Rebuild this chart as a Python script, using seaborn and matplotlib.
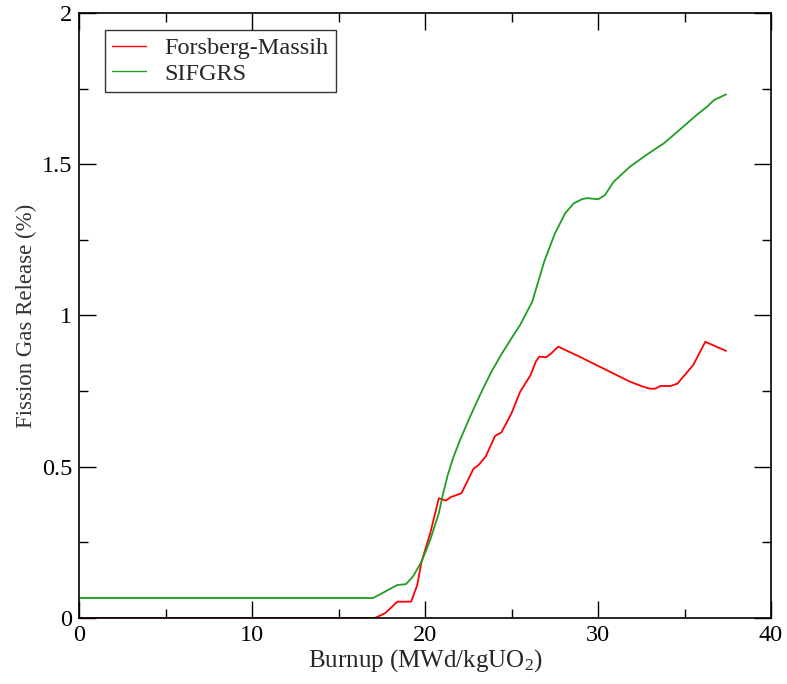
import matplotlib
matplotlib.use("Agg")
import matplotlib.pyplot as plt
from matplotlib.ticker import MultipleLocator
import numpy as np
import pandas as pd
import seaborn as sns

# Forsberg-Massih model: burnup (MWd/kgUO2) vs fission gas release (%)
fm_burnup = [0.0, 17.1, 17.7, 18.4, 19.2, 19.55, 19.8, 20.3, 20.8, 21.2, 21.5, 22.1,
             22.8, 23.1, 23.5, 24.05, 24.4, 24.7, 25.0, 25.5, 26.1, 26.4, 26.6, 27.0,
             27.3, 27.7, 29.0, 30.3, 31.85, 32.6, 33.0, 33.3, 33.6, 34.2, 34.6, 34.8,
             35.5, 36.2, 37.4]
fm_release = [0.0, 0.0, 0.016, 0.054, 0.054, 0.109, 0.186, 0.28, 0.396, 0.388, 0.40, 0.412,
              0.493, 0.506, 0.533, 0.602, 0.613, 0.644, 0.677, 0.748, 0.803, 0.847, 0.864, 0.862,
              0.875, 0.897, 0.862, 0.825, 0.781, 0.765, 0.758, 0.758, 0.767, 0.767, 0.775, 0.789,
              0.836, 0.913, 0.883]

# SIFGRS model
sif_burnup = [0.0, 17.0, 18.4, 18.9, 19.3, 19.8, 20.3, 20.8, 21.0, 21.3, 21.6, 22.0, 22.6,
              23.2, 23.8, 24.4, 25.0, 25.5, 26.2, 26.9, 27.5, 28.1, 28.6, 29.1, 29.4,
              30.0, 30.4, 30.9, 31.85, 32.8, 33.8, 34.7, 35.7, 36.3, 36.7, 37.4]
sif_release = [0.066, 0.066, 0.109, 0.112, 0.137, 0.186, 0.258, 0.347, 0.40, 0.47, 0.525, 0.585, 0.665,
               0.74, 0.81, 0.87, 0.925, 0.969, 1.046, 1.18, 1.27, 1.338, 1.371, 1.385, 1.388,
               1.384, 1.398, 1.442, 1.492, 1.531, 1.569, 1.613, 1.663, 1.69, 1.712, 1.731]

series_names = ["Forsberg-Massih", "SIFGRS"]
series_colors = ["#ff0000", "#1f9e1f"]

df = pd.concat([
    pd.DataFrame({"burnup": fm_burnup, "release": fm_release, "model": series_names[0]}),
    pd.DataFrame({"burnup": sif_burnup, "release": sif_release, "model": series_names[1]}),
], ignore_index=True)

sns.set_theme(style="ticks")
plt.rcParams["font.family"] = ["Liberation Serif", "DejaVu Serif"]
plt.rcParams["mathtext.fontset"] = "custom"
plt.rcParams["mathtext.rm"] = "Liberation Serif"
plt.rcParams["mathtext.it"] = "Liberation Serif:italic"

fig = plt.figure(figsize=(7.87, 6.84), dpi=100)
ax = fig.add_axes([0.1004, 0.0965, 0.8793, 0.8845])

sns.lineplot(data=df, x="burnup", y="release", hue="model", hue_order=series_names,
             palette=series_colors, sort=False, estimator=None, linewidth=1.3,
             ax=ax, legend=False)

ax.set_xlim(0, 40)
ax.set_ylim(0, 2)
ax.xaxis.set_major_locator(MultipleLocator(10))
ax.xaxis.set_minor_locator(MultipleLocator(5))
ax.yaxis.set_major_locator(MultipleLocator(0.5))
ax.yaxis.set_minor_locator(MultipleLocator(0.25))
ax.set_yticks([0, 0.5, 1, 1.5, 2])
ax.set_yticklabels(["0", "0.5", "1", "1.5", "2"])

ax.tick_params(which="both", direction="in", top=True, right=True,
               labelsize=17.5, colors="black", width=1.0)
ax.tick_params(which="major", length=12, pad=5)
ax.tick_params(which="minor", length=6.5)
for s in ax.spines.values():
    s.set_linewidth(1.2)
    s.set_color("black")

ax.set_xlabel("Burnup (MWd/kgUO$_2$)", fontsize=18, labelpad=1)
ax.set_ylabel("Fission Gas Release (%)", fontsize=16.5, labelpad=3, color="#333333")

handles = [plt.Line2D([], [], color=c, linewidth=1.0) for c in series_colors]
leg = ax.legend(handles, series_names, loc="upper left", bbox_to_anchor=(0.0376, 0.972),
                fontsize=17.5, frameon=True, fancybox=False, edgecolor="black",
                handlelength=1.4, handletextpad=0.75, borderpad=0.3, labelspacing=0.15,
                borderaxespad=0.0)
leg.get_frame().set_linewidth(1.0)

fig.savefig("out.png", dpi=100)
